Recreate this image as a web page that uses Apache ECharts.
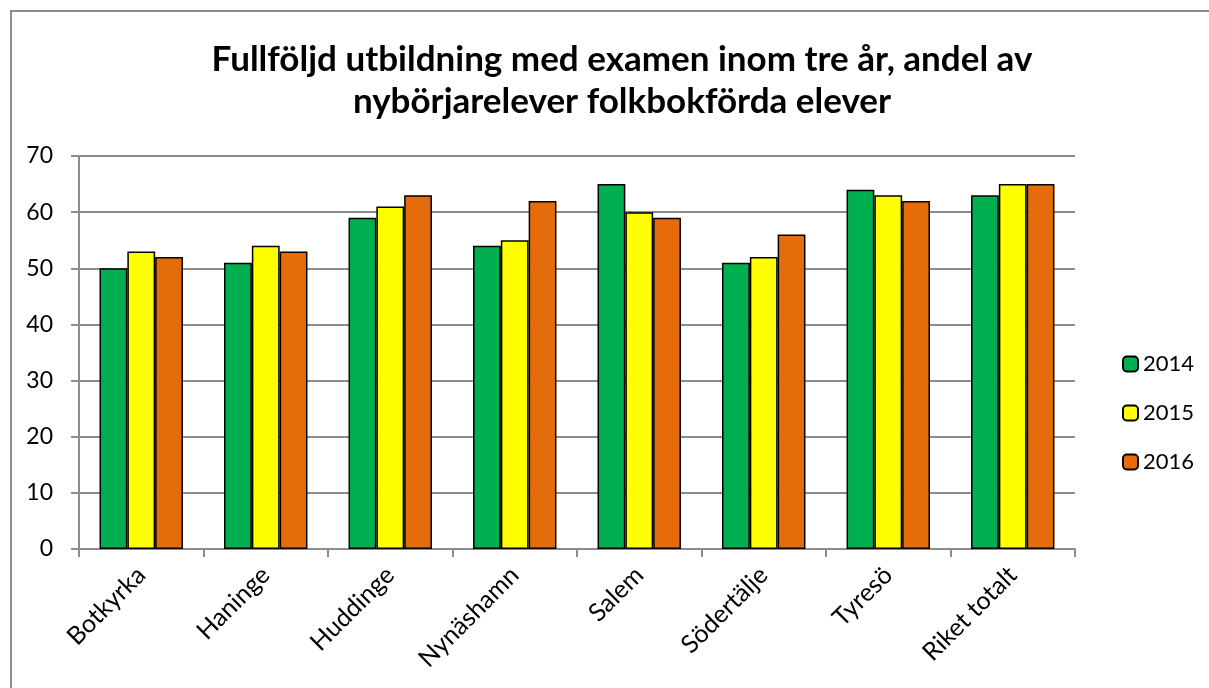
<!DOCTYPE html>
<html>
<head>
<meta charset="utf-8">
<script src="https://cdn.jsdelivr.net/npm/echarts@6/dist/echarts.min.js"></script>
<style>
  html, body { margin: 0; padding: 0; background: #fff; }
  #frame {
    position: absolute; left: 10px; top: 10px; width: 1300px; height: 800px;
    border-top: 2px solid #8c8c8c; border-left: 2px solid #8c8c8c;
  }
  #chart { position: absolute; left: 0; top: 0; width: 1209px; height: 688px; }
</style>
</head>
<body>
<div id="frame"></div>
<div id="chart"></div>
<script>
const categories = ['Botkyrka', 'Haninge', 'Huddinge', 'Nynäshamn', 'Salem', 'Södertälje', 'Tyresö', 'Riket totalt'];
const years = ['2014', '2015', '2016'];
const values2014 = [50, 51, 59, 54, 65, 51, 64, 63];
const values2015 = [53, 54, 61, 55, 60, 52, 63, 65];
const values2016 = [52, 53, 63, 62, 59, 56, 62, 65];
const colors = ['#00B050', '#FFFF00', '#E46C0A'];

const font = 'Lato, "Open Sans", sans-serif';

const chart = echarts.init(document.getElementById('chart'));

function bar(name, data, color) {
  return {
    name: name,
    type: 'bar',
    data: data,
    barGap: '0%',
    barCategoryGap: '33%',
    itemStyle: { color: color, borderColor: '#000', borderWidth: 1.5 }
  };
}

chart.setOption({
  animation: false,
  textStyle: { fontFamily: font },
  title: {
    text: 'Fullföljd utbildning med examen inom tre år, andel av\nnybörjarelever folkbokförda elever',
    left: 617,
    textAlign: 'center',
    top: 34,
    textStyle: { fontSize: 35, fontWeight: 'bold', color: '#000', lineHeight: 42, fontFamily: font }
  },
  legend: {
    orient: 'vertical',
    left: 1117,
    top: 348,
    itemWidth: 15,
    itemHeight: 15,
    itemGap: 27,
    textStyle: { fontSize: 22, lineHeight: 22, color: '#000', fontFamily: font },
    data: years
  },
  grid: { left: 79, right: 134, top: 156, bottom: 139 },
  xAxis: {
    type: 'category',
    data: categories,
    axisLine: { lineStyle: { color: '#8c8c8c', width: 2 } },
    axisTick: { show: true, alignWithLabel: false, length: 8, lineStyle: { color: '#8c8c8c', width: 2 } },
    axisLabel: { rotate: 45, fontSize: 25, color: '#000', margin: 22, interval: 0, fontFamily: font }
  },
  yAxis: {
    type: 'value',
    min: 0,
    max: 70,
    interval: 10,
    axisLine: { show: true, lineStyle: { color: '#8c8c8c', width: 2 } },
    axisTick: { show: true, length: 8, lineStyle: { color: '#8c8c8c', width: 2 } },
    axisLabel: { fontSize: 23, color: '#000', margin: 26, fontFamily: font },
    splitLine: { show: true, lineStyle: { color: '#8c8c8c', width: 2 } }
  },
  series: [
    bar(years[0], values2014, colors[0]),
    bar(years[1], values2015, colors[1]),
    bar(years[2], values2016, colors[2])
  ]
});
</script>
</body>
</html>
